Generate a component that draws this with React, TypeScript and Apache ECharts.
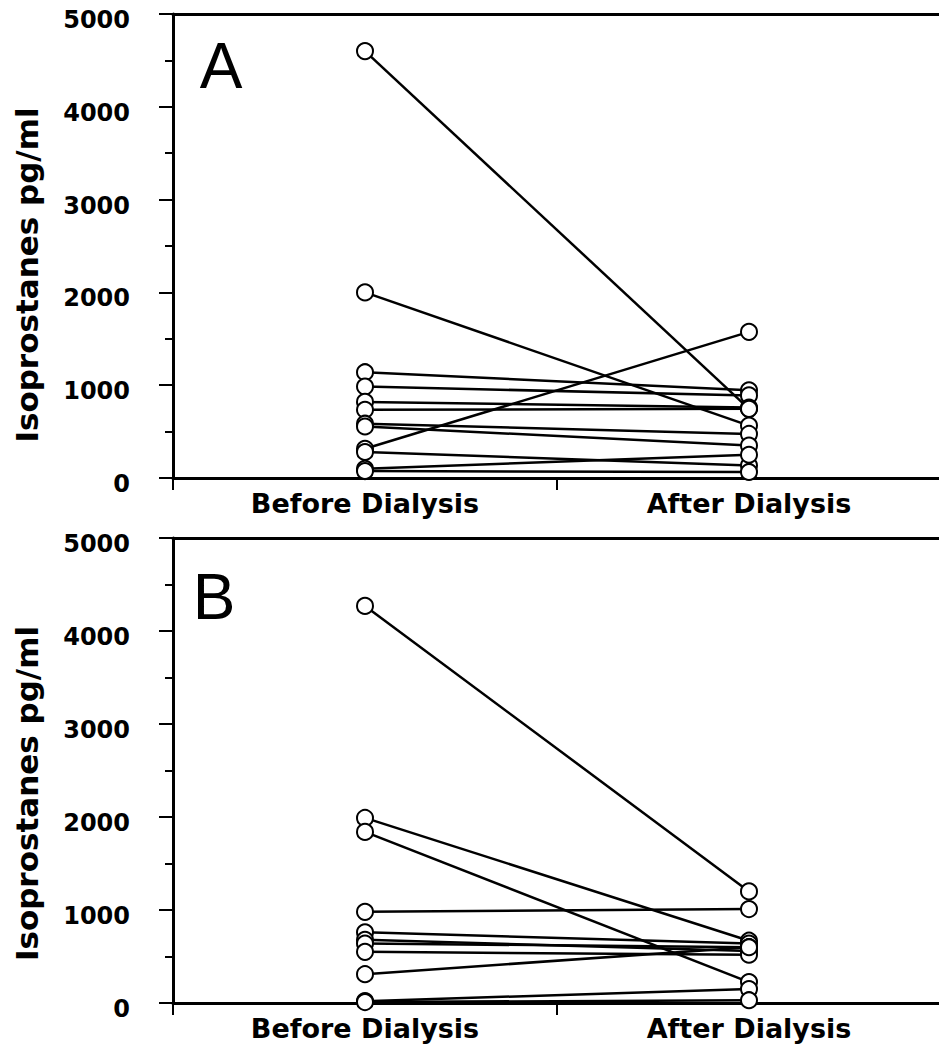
import React, { useEffect, useRef } from "react";
import * as echarts from "echarts";

const categories = ["Before Dialysis", "After Dialysis"];
const yTickLabels = ["0", "1000", "2000", "3000", "4000", "5000"];
const yAxisTitle = "Isoprostanes pg/ml";
const panelLabels = ["A", "B"];

const panelABefore = [4600, 2000, 1140, 985, 820, 735, 585, 555, 315, 280, 100, 75];
const panelAAfter = [745, 565, 945, 890, 760, 745, 475, 350, 1575, 135, 250, 65];

const panelBBefore = [4270, 1990, 1840, 980, 760, 680, 640, 550, 310, 20, 10];
const panelBAfter = [1200, 670, 225, 1010, 640, 560, 600, 520, 600, 150, 30];

const grids = [
  { left: 173, top: 14, width: 768, height: 464 },
  { left: 173, top: 538, width: 768, height: 465 },
];

function buildOption() {
  const font = "DejaVu Sans";
  const bottomAxes = grids.map((_, i) => ({
    type: "category",
    gridIndex: i,
    position: "bottom",
    data: categories,
    boundaryGap: true,
    axisLine: { show: true, lineStyle: { color: "#000", width: 3 } },
    axisTick: { show: true, length: 12, interval: 0, lineStyle: { color: "#000", width: 2 } },
    axisLabel: {
      color: "#000",
      fontFamily: font,
      fontWeight: "bold",
      fontSize: 27,
      margin: 12,
      interval: 0,
    },
    splitLine: { show: false },
  }));
  const topAxes = grids.map((_, i) => ({
    type: "category",
    gridIndex: i,
    position: "top",
    data: categories,
    boundaryGap: true,
    axisLine: { show: true, lineStyle: { color: "#000", width: 3 } },
    axisTick: { show: false },
    axisLabel: { show: false },
    splitLine: { show: false },
  }));
  const yAxes = grids.map((_, i) => ({
    type: "value",
    gridIndex: i,
    min: 0,
    max: 5000,
    interval: 1000,
    axisLine: { show: true, lineStyle: { color: "#000", width: 3 } },
    axisTick: { show: true, length: 14, lineStyle: { color: "#000", width: 2 } },
    minorTick: { show: true, splitNumber: 2, length: 8, lineStyle: { color: "#000", width: 2 } },
    axisLabel: {
      color: "#000",
      margin: 43,
      formatter: (v: number) => `{t|${yTickLabels[Math.round(v / 1000)] ?? String(v)}}`,
      rich: {
        t: {
          fontFamily: font,
          fontWeight: "bold",
          fontSize: 24,
          color: "#000",
          padding: [12, 0, 0, 0],
        },
      },
    },
    splitLine: { show: false },
  }));

  const series: any[] = [];
  const panels = [
    [panelABefore, panelAAfter],
    [panelBBefore, panelBAfter],
  ];
  panels.forEach(([before, after], p) => {
    before.forEach((b, i) => {
      series.push({
        type: "line",
        xAxisIndex: p,
        yAxisIndex: p,
        data: [b, after[i]],
        symbol: "emptyCircle",
        symbolSize: 16,
        showSymbol: true,
        silent: true,
        itemStyle: { color: "#000", borderColor: "#000", borderWidth: 2 },
        lineStyle: { color: "#000", width: 2.5 },
      });
    });
  });

  const graphic: any[] = [];
  grids.forEach((g, i) => {
    graphic.push({
      type: "text",
      x: 27,
      y: g.top + g.height / 2 + (i === 0 ? 29 : 23),
      rotation: Math.PI / 2,
      style: {
        text: yAxisTitle,
        fill: "#000",
        font: `bold 31px "${font}"`,
        textAlign: "center",
        textVerticalAlign: "middle",
      },
    });
    graphic.push({
      type: "text",
      x: i === 0 ? 221 : 214,
      y: g.top + (i === 0 ? 52 : 59),
      style: {
        text: panelLabels[i],
        fill: "#000",
        font: `64px "Liberation Sans"`,
        textAlign: "center",
        textVerticalAlign: "middle",
      },
    });
  });

  return {
    animation: false,
    backgroundColor: "#fff",
    grid: grids.map((g) => ({ ...g, containLabel: false, outerBoundsMode: "none" })),
    xAxis: [...bottomAxes, ...topAxes],
    yAxis: yAxes,
    series,
    graphic,
  };
}

export default function App() {
  const ref = useRef<HTMLDivElement>(null);
  useEffect(() => {
    if (!ref.current) return;
    const chart = echarts.init(ref.current, undefined, { renderer: "svg" });
    chart.setOption(buildOption() as any);
    return () => chart.dispose();
  }, []);
  return (
    <div
      ref={ref}
      style={{ position: "absolute", left: 0, top: 0, width: 939, height: 1051, background: "#fff" }}
    />
  );
}
